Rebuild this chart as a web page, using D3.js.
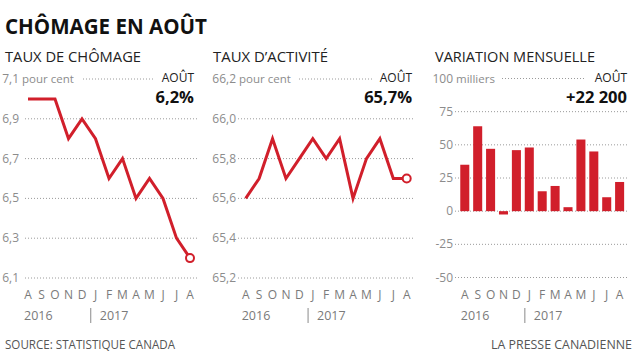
<!DOCTYPE html>
<html><head><meta charset="utf-8">
<script src="https://cdn.jsdelivr.net/npm/d3@7"></script>
<style>body{margin:0;background:#fff}svg{display:block}text{font-family:"Open Sans",Lato,sans-serif}</style>
</head><body>
<svg id="c" width="635" height="357"></svg>
<script>
const months = ["A","S","O","N","D","J","F","M","A","M","J","J","A"];
const chomage = [7.0,7.0,7.0,6.8,6.9,6.8,6.6,6.7,6.5,6.6,6.5,6.3,6.2];
const activite = [65.6,65.7,65.9,65.7,65.8,65.9,65.8,65.9,65.6,65.8,65.9,65.7,65.7];
const variation = [35,64,47,-2.5,46,48,15,19,3,54,45,10.5,22];
const ticks1 = [7.1,6.9,6.7,6.5,6.3,6.1];
const ticks2 = [66.2,66.0,65.8,65.6,65.4,65.2];
const ticks3 = [100,75,50,25,0,-25,-50];
const years = ["2016","2017"];

const RED = "#d11f2b";
const svg = d3.select("#c");
const fmt = d => d.toFixed(1).replace(".", ",");

function txt(x,y,s,o){
  const t = svg.append("text").attr("x",x).attr("y",y).text(s)
    .attr("font-size",o.size||12).attr("fill",o.fill||"#222")
    .attr("font-weight",o.weight||400).attr("text-anchor",o.anchor||"start");
  if(o.len) t.attr("textLength",o.len).attr("lengthAdjust","spacingAndGlyphs");
  return t;
}

txt(5,34,"CHÔMAGE EN AOÛT",{size:22,weight:700,fill:"#111",len:202});

function panel(cfg){
  const g = svg.append("g");
  const y = d3.scaleLinear().domain(cfg.ydom).range([cfg.ybot,cfg.ytop]);
  txt(cfg.titleX,62,cfg.title,{size:15,fill:"#222",len:cfg.titleLen});
  cfg.ticks.forEach((t,i)=>{
    const yy = y(t);
    const x0 = i===0 ? cfg.topGrid[0] : cfg.gx0;
    const x1 = i===0 ? cfg.topGrid[1] : cfg.gx1;
    g.append("line").attr("x1",x0).attr("x2",x1).attr("y1",yy).attr("y2",yy)
      .attr("stroke","#9a9a9a").attr("stroke-width",1).attr("stroke-dasharray","1,2");
    g.append("text").attr("x",cfg.labR).attr("y",yy+4).attr("text-anchor","end")
      .attr("font-size",12).attr("fill","#8c8c8c").text(cfg.fmt(t));
  });
  g.append("text").attr("x",cfg.labR+3).attr("y",y(cfg.ticks[0])+4)
    .attr("font-size",11.5).attr("fill","#8c8c8c").text(cfg.unit);
  txt(cfg.right,82,"AOÛT",{size:12,fill:"#222",anchor:"end"});
  txt(cfg.right,103,cfg.big,{size:16.5,weight:700,fill:"#111",anchor:"end"});
  return {g,y};
}

function axisLabels(g,xpos,sepX){
  months.forEach((m,i)=>{
    g.append("text").attr("x",xpos(i)).attr("y",299).attr("text-anchor","middle")
      .attr("font-size",12).attr("fill","#7a7a7a").text(m);
  });
  g.append("text").attr("x",xpos(0)-4).attr("y",320).attr("font-size",12.5).attr("fill","#7a7a7a").text(years[0]);
  g.append("line").attr("x1",sepX).attr("x2",sepX).attr("y1",308).attr("y2",323).attr("stroke","#8a8a8a").attr("stroke-width",1);
  g.append("text").attr("x",sepX+9).attr("y",320).attr("font-size",12.5).attr("fill","#7a7a7a").text(years[1]);
}

function linePanel(cfg,data){
  const p = panel(cfg);
  const x = d3.scalePoint().domain(d3.range(months.length)).range(cfg.xr);
  const line = d3.line().x((d,i)=>x(i)).y(d=>p.y(d));
  p.g.append("path").datum(data).attr("d",line).attr("fill","none")
    .attr("stroke",RED).attr("stroke-width",3).attr("stroke-linejoin","miter");
  p.g.append("circle").attr("cx",x(data.length-1)).attr("cy",p.y(data[data.length-1])).attr("r",4)
    .attr("fill","#fff").attr("stroke",RED).attr("stroke-width",2);
  const sep = (x(4)+x(5))/2+2;
  axisLabels(p.g,i=>x(i),sep);
}

linePanel({title:"TAUX DE CHÔMAGE",titleX:5,titleLen:136,ydom:[6.1,7.1],ybot:278,ytop:79,
  ticks:ticks1,fmt:fmt,unit:"pour cent",gx0:25,gx1:197,topGrid:[83,155],labR:19,right:194,big:"6,2%",xr:[28,190]},chomage);

linePanel({title:"TAUX D’ACTIVITÉ",titleX:213,titleLen:115,ydom:[65.2,66.2],ybot:278,ytop:79,
  ticks:ticks2,fmt:fmt,unit:"pour cent",gx0:238,gx1:413,topGrid:[299,373],labR:236,right:412,big:"65,7%",xr:[245.7,406.7]},activite);

(function(){
  const cfg = {title:"VARIATION MENSUELLE",titleX:435,titleLen:160,ydom:[-50,100],ybot:277.5,ytop:78.5,
    ticks:ticks3,fmt:d=>d,unit:"milliers",gx0:455,gx1:627,topGrid:[502,585],labR:453,right:627,big:"+22 200"};
  const p = panel(cfg);
  const x = d3.scaleBand().domain(d3.range(months.length)).range([456.4,628]).padding(0.3);
  p.g.selectAll("rect.bar").data(variation).join("rect").attr("class","bar")
    .attr("x",(d,i)=>x(i)).attr("width",x.bandwidth())
    .attr("y",d=>p.y(Math.max(0,d))).attr("height",d=>Math.abs(p.y(d)-p.y(0)))
    .attr("fill",RED);
  const cx = i=>x(i)+x.bandwidth()/2;
  axisLabels(p.g,cx,(cx(4)+cx(5))/2+2);
})();

txt(5,349,"SOURCE: STATISTIQUE CANADA",{size:12.5,fill:"#555",len:170});
txt(632,349,"LA PRESSE CANADIENNE",{size:12.5,fill:"#555",anchor:"end",len:141});
</script>
</body></html>
